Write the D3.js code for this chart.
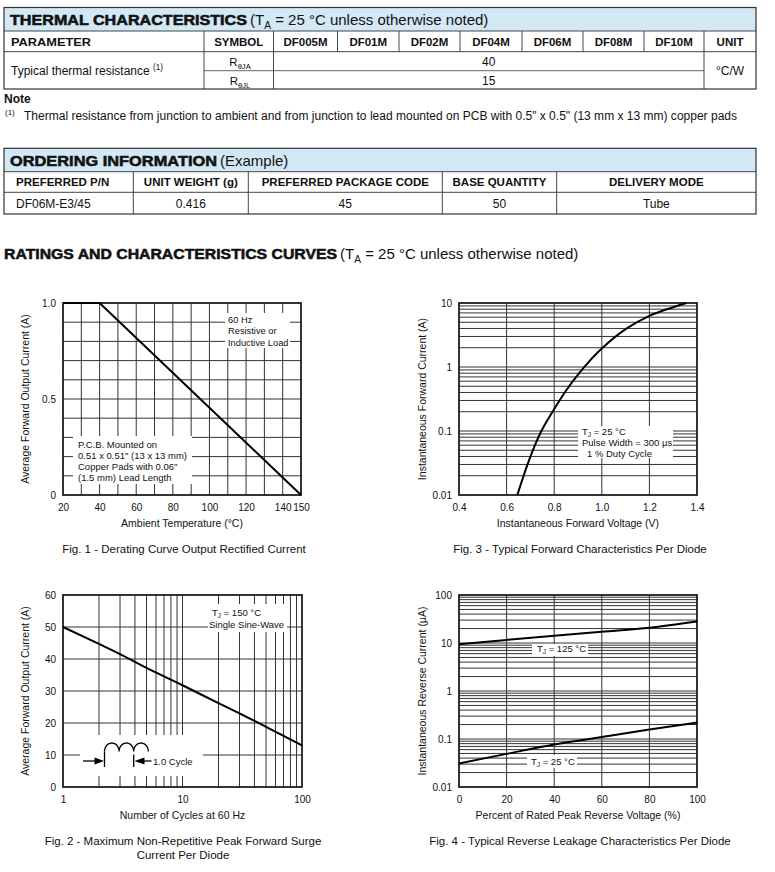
<!DOCTYPE html>
<html><head><meta charset="utf-8">
<script src="https://cdn.jsdelivr.net/npm/d3@7/dist/d3.min.js"></script>
<style>
html,body{margin:0;padding:0;background:#fff;}
svg{display:block;}
text{font-family:"Liberation Sans",Arial,Helvetica,sans-serif;fill:#111;}
</style></head><body>
<svg id="page" width="775" height="872" viewBox="0 0 775 872"></svg>
<script>
// ---------------- data ----------------
const thermalModels = ["DF005M","DF01M","DF02M","DF04M","DF06M","DF08M","DF10M"];
const thermalHeaders = ["PARAMETER","SYMBOL"];
const thermalParam = "Typical thermal resistance";
const thermalSymbols = ["θJA","θJL"];
const thermalValues = ["40","15"];
const thermalUnit = "°C/W";
const noteText = "Thermal resistance from junction to ambient and from junction to lead mounted on PCB with 0.5\" x 0.5\" (13 mm x 13 mm) copper pads";

const orderHeaders = ["PREFERRED P/N","UNIT WEIGHT (g)","PREFERRED PACKAGE CODE","BASE QUANTITY","DELIVERY MODE"];
const orderValues = ["DF06M-E3/45","0.416","45","50","Tube"];

// Fig. 1 derating curve
const fig1Temp = [20, 40, 150];
const fig1Current = [1.0, 1.0, 0];
const fig1XTicks = [20,40,60,80,100,120,140,150];
const fig1YTicks = [0, 0.5, 1.0];
const fig1YTickLabels = ["0","0.5","1.0"];

// Fig. 2 surge current
const fig2Cycles = [1,2,3,5,10,20,30,50,100];
const fig2Current = [50,44.7,41.5,37.2,31.8,26.2,23.0,18.8,13.0];
const fig2XTicks = [1,10,100];
const fig2YTicks = [0,10,20,30,40,50,60];

// Fig. 3 forward characteristics
const fig3Volt = [0.645,0.695,0.745,0.80,0.85,0.90,0.95,1.00,1.10,1.20,1.30,1.355];
const fig3Current = [0.01,0.0355,0.098,0.22,0.43,0.76,1.26,1.95,3.9,6.3,8.6,10];
const fig3XTicks = [0.4,0.6,0.8,1.0,1.2,1.4];
const fig3XTickLabels = ["0.4","0.6","0.8","1.0","1.2","1.4"];
const fig3YTicks = [0.01,0.1,1,10];
const fig3YTickLabels = ["0.01","0.1","1","10"];

// Fig. 4 reverse leakage
const fig4Pct = [0,20,40,60,80,100];
const fig4I125 = [9.4,11.6,14.2,17.2,20.8,28];
const fig4I25 = [0.031,0.049,0.077,0.11,0.157,0.22];
const fig4XTicks = [0,20,40,60,80,100];
const fig4YTicks = [0.01,0.1,1,10,100];
const fig4YTickLabels = ["0.01","0.1","1","10","100"];

// ---------------- helpers ----------------
const svg = d3.select("#page");
function T(p, x, y, s, o = {}) {
  const t = p.append("text").attr("x", x).attr("y", y).text(s).style("font-size", (o.size || 12) + "px");
  if (o.weight) t.style("font-weight", o.weight);
  if (o.anchor) t.attr("text-anchor", o.anchor);
  if (o.stroke) t.style("stroke", "#111").style("stroke-width", o.stroke);
  if (o.len) t.attr("textLength", o.len).attr("lengthAdjust", "spacingAndGlyphs");
  if (o.rot) t.attr("transform", `rotate(-90,${x},${y})`);
  return t;
}
function R(p, x, y, parts, o = {}) {
  const size = o.size || 12;
  const t = p.append("text").attr("x", x).attr("y", y).style("font-size", size + "px");
  if (o.anchor) t.attr("text-anchor", o.anchor);
  if (o.weight) t.style("font-weight", o.weight);
  let shift = 0;
  parts.forEach(([s, kind]) => {
    const target = kind === "sub" ? size * 0.28 : kind === "sup" ? -size * 0.42 : 0;
    const ts = t.append("tspan").attr("dy", target - shift).text(s);
    if (kind) ts.style("font-size", (size * (o.subScale || 0.68)) + "px");
    shift = target;
  });
  return t;
}
function L(p, x1, y1, x2, y2, c = "#555", w = 1) {
  p.append("line").attr("x1", x1).attr("y1", y1).attr("x2", x2).attr("y2", y2).attr("stroke", c).attr("stroke-width", w);
}

// ---------------- thermal table ----------------
(function () {
  const g = svg.append("g");
  const x0 = 4, x1 = 756, yTop = 7.5, yTitle = 31, yHead = 51.7, yMid = 70.7, yBot = 89;
  const cols = [4, 204, 273.5, 337.5, 399, 460, 522, 583, 644, 704, 756];
  g.append("rect").attr("x", x0).attr("y", yTop).attr("width", x1 - x0).attr("height", yTitle - yTop).attr("fill", "#d3e8f5");
  L(g, x0, yTitle, x1, yTitle, "#444");
  L(g, x0, yHead, x1, yHead, "#444");
  L(g, cols[1], yMid, cols[9], yMid, "#666");
  [1, 2, 9].forEach(i => L(g, cols[i], yTitle, cols[i], yBot, "#444"));
  [3, 4, 5, 6, 7, 8].forEach(i => L(g, cols[i], yTitle, cols[i], yHead, "#444"));
  g.append("rect").attr("x", x0).attr("y", yTop).attr("width", x1 - x0).attr("height", yBot - yTop).attr("fill", "none").attr("stroke", "#333").attr("stroke-width", 1.2);

  T(g, 10, 25, "THERMAL CHARACTERISTICS", {size: 15, weight: "bold", stroke: 0.55, len: 237});
  R(g, 250, 25, [["(T"], ["A", "sub"], [" = 25 °C unless otherwise noted)"]], {size: 15});

  const hb = 45.5;
  T(g, 11, hb, thermalHeaders[0], {size: 11.5, weight: "bold", len: 80});
  T(g, (cols[1] + cols[2]) / 2, hb, thermalHeaders[1], {size: 11.5, weight: "bold", anchor: "middle"});
  thermalModels.forEach((m, i) => T(g, (cols[i + 2] + cols[i + 3]) / 2, hb, m, {size: 11.5, weight: "bold", anchor: "middle"}));
  T(g, (cols[9] + cols[10]) / 2, hb, "UNIT", {size: 11.5, weight: "bold", anchor: "middle"});

  R(g, 11, 75, [[thermalParam + " "], ["(1)", "sup"]], {size: 12});
  thermalSymbols.forEach((s, i) => {
    R(g, 240, i === 0 ? 65.5 : 84.5, [["R"], [s, "sub"]], {size: 11.5, anchor: "middle", subScale: 0.66});
  });
  thermalValues.forEach((v, i) => T(g, (cols[2] + cols[9]) / 2, i === 0 ? 65.5 : 84.5, v, {size: 12, anchor: "middle"}));
  T(g, (cols[9] + cols[10]) / 2, 75, thermalUnit, {size: 12, anchor: "middle"});

  T(g, 4, 103, "Note", {size: 12, weight: "bold"});
  T(g, 5, 115, "(1)", {size: 8});
  T(g, 24, 120, noteText, {size: 12, len: 713});
})();

// ---------------- ordering table ----------------
(function () {
  const g = svg.append("g");
  const x0 = 4, x1 = 756, yTop = 148.3, yTitle = 171.7, yHead = 192.3, yBot = 214;
  const cols = [4, 133.3, 248.3, 442.3, 556.7, 756];
  g.append("rect").attr("x", x0).attr("y", yTop).attr("width", x1 - x0).attr("height", yTitle - yTop).attr("fill", "#d3e8f5");
  L(g, x0, yTitle, x1, yTitle, "#444");
  L(g, x0, yHead, x1, yHead, "#444");
  [1, 2, 3, 4].forEach(i => L(g, cols[i], yTitle, cols[i], yBot, "#444"));
  g.append("rect").attr("x", x0).attr("y", yTop).attr("width", x1 - x0).attr("height", yBot - yTop).attr("fill", "none").attr("stroke", "#333").attr("stroke-width", 1.2);

  T(g, 10, 165.5, "ORDERING INFORMATION", {size: 15, weight: "bold", stroke: 0.55, len: 207});
  T(g, 220, 165.5, "(Example)", {size: 15});
  orderHeaders.forEach((h, i) => {
    if (i === 0) T(g, 16, 186.3, h, {size: 11.5, weight: "bold"});
    else T(g, (cols[i] + cols[i + 1]) / 2, 186.3, h, {size: 11.5, weight: "bold", anchor: "middle"});
  });
  orderValues.forEach((v, i) => {
    if (i === 0) T(g, 16, 207.5, v, {size: 12});
    else T(g, (cols[i] + cols[i + 1]) / 2, 207.5, v, {size: 12, anchor: "middle"});
  });
})();

// ---------------- section heading ----------------
T(svg, 4, 259, "RATINGS AND CHARACTERISTICS CURVES", {size: 15, weight: "bold", stroke: 0.55, len: 333});
R(svg, 340, 259, [["(T"], ["A", "sub"], [" = 25 °C unless otherwise noted)"]], {size: 15});

// ---------------- chart helper ----------------
function plot(cfg) {
  const g = svg.append("g");
  const x = cfg.x, y = cfg.y;
  const [px0, px1] = x.range(), [pyB, pyT] = y.range();
  const gridC = "#333";
  cfg.xGrid.forEach(d => L(g, x(d), pyT, x(d), pyB, gridC, 1));
  cfg.yGrid.forEach(d => L(g, px0, y(d), px1, y(d), gridC, 1));
  (cfg.boxes || []).forEach(b => g.append("rect").attr("x", b[0]).attr("y", b[1]).attr("width", b[2]).attr("height", b[3]).attr("fill", "#fff"));
  g.append("rect").attr("x", px0).attr("y", pyT).attr("width", px1 - px0).attr("height", pyB - pyT)
    .attr("fill", "none").attr("stroke", "#111").attr("stroke-width", 1.7);
  cfg.series.forEach(s => {
    g.append("path").datum(d3.zip(s.x, s.y))
      .attr("d", d3.line().x(d => x(d[0])).y(d => y(d[1])).curve(s.curve || d3.curveLinear))
      .attr("fill", "none").attr("stroke", "#000").attr("stroke-width", 2).attr("stroke-linejoin", "round");
  });
  const ax = g.append("g").attr("transform", `translate(0,${pyB})`)
    .call(d3.axisBottom(x).tickValues(cfg.xTicks).tickFormat((d, i) => cfg.xLabels[i]).tickSize(0).tickPadding(8.5));
  ax.select(".domain").remove();
  ax.selectAll("text").style("font-size", "10px");
  const ay = g.append("g").attr("transform", `translate(${px0},0)`)
    .call(d3.axisLeft(y).tickValues(cfg.yTicks).tickFormat((d, i) => cfg.yLabels[i]).tickSize(0).tickPadding(7));
  ay.select(".domain").remove();
  ay.selectAll("text").style("font-size", "10px");
  const cx = (px0 + px1) / 2, cy = (pyB + pyT) / 2;
  T(g, cx, pyB + 31.5, cfg.xTitle, {size: 10.5, anchor: "middle"});
  T(g, cfg.yTitleX, cy, cfg.yTitle, {size: 10.5, anchor: "middle", rot: true}).attr("dy", "0.35em");
  cfg.caption.forEach((c, i) => T(g, cfg.capX, cfg.capY + i * 14, c, {size: 11.5, anchor: "middle"}));
  return g;
}
function logGrid(decades) {
  const out = [];
  decades.forEach(d => { for (let k = 1; k <= 9; k++) out.push(k * d); });
  return out;
}

// ---------------- Fig. 1 ----------------
{
  const x = d3.scaleLinear().domain([20, 150]).range([63, 301]);
  const y = d3.scaleLinear().domain([0, 1]).range([495, 303]);
  const g = plot({
    x, y, xGrid: d3.range(30, 150, 10), yGrid: d3.range(1, 10).map(d => d / 10),
    boxes: [[225, 313, 65, 35], [73, 436, 119, 48]],
    series: [{x: fig1Temp, y: fig1Current}],
    xTicks: fig1XTicks, xLabels: fig1XTicks.map(String),
    yTicks: fig1YTicks, yLabels: fig1YTickLabels,
    xTitle: "Ambient Temperature (°C)", yTitle: "Average Forward Output Current (A)", yTitleX: 25,
    caption: ["Fig. 1 - Derating Curve Output Rectified Current"], capX: 184, capY: 553
  });
  ["60 Hz", "Resistive or", "Inductive Load"].forEach((s, i) => T(g, 228, 322.5 + i * 11.5, s, {size: 9.3}));
  ["P.C.B. Mounted on", "0.51 x 0.51\" (13 x 13 mm)", "Copper Pads with 0.06\"", "(1.5 mm) Lead Length"]
    .forEach((s, i) => T(g, 78, 447.5 + i * 11, s, {size: 9.5}));
}

// ---------------- Fig. 3 ----------------
{
  const x = d3.scaleLinear().domain([0.4, 1.4]).range([459, 697]);
  const y = d3.scaleLog().domain([0.01, 10]).range([495, 303]);
  const g = plot({
    x, y, xGrid: [0.6, 0.8, 1.0, 1.2], yGrid: logGrid([0.01, 0.1, 1]).filter(d => d > 0.0101),
    boxes: [[578, 426, 95, 32]],
    series: [{x: fig3Volt, y: fig3Current, curve: d3.curveCatmullRom.alpha(0.5)}],
    xTicks: fig3XTicks, xLabels: fig3XTickLabels,
    yTicks: fig3YTicks, yLabels: fig3YTickLabels,
    xTitle: "Instantaneous Forward Voltage (V)", yTitle: "Instantaneous Forward Current (A)", yTitleX: 422,
    caption: ["Fig. 3 - Typical Forward Characteristics Per Diode"], capX: 580, capY: 553
  });
  R(g, 582, 434.5, [["T"], ["J", "sub"], [" = 25 °C"]], {size: 9.5});
  T(g, 582, 445.5, "Pulse Width = 300 µs", {size: 9.5});
  T(g, 587, 456.5, "1 % Duty Cycle", {size: 9.5});
}

// ---------------- Fig. 2 ----------------
{
  const x = d3.scaleLog().domain([1, 100]).range([63, 302]);
  const y = d3.scaleLinear().domain([0, 60]).range([787, 595]);
  const g = plot({
    x, y, xGrid: logGrid([1, 10]).filter(d => d > 1.01), yGrid: [10, 20, 30, 40, 50],
    boxes: [[208, 604, 79, 28], [80, 735, 123, 41]],
    series: [{x: fig2Cycles, y: fig2Current, curve: d3.curveMonotoneX}],
    xTicks: fig2XTicks, xLabels: fig2XTicks.map(String),
    yTicks: fig2YTicks, yLabels: fig2YTicks.map(String),
    xTitle: "Number of Cycles at 60 Hz", yTitle: "Average Forward Output Current (A)", yTitleX: 25,
    caption: ["Fig. 2 - Maximum Non-Repetitive Peak Forward Surge", "Current Per Diode"], capX: 183, capY: 845
  });
  R(g, 212, 615.5, [["T"], ["J", "sub"], [" = 150 °C"]], {size: 9.5});
  T(g, 209, 627.5, "Single Sine-Wave", {size: 9.5});
  // sine-wave symbol
  const p = d3.path();
  const bx = 104.5, w = 14.6, by = 751.5;
  p.moveTo(bx, by);
  for (let k = 0; k < 3; k++) {
    const c = bx + w * k + w / 2;
    for (let a = 0; a <= 24; a++) {
      const t = Math.PI - Math.PI * a / 24;
      p.lineTo(c + (w / 2) * Math.cos(t), by - 8.5 * Math.sin(t));
    }
  }
  g.append("path").attr("d", p.toString()).attr("fill", "none").attr("stroke", "#000").attr("stroke-width", 1.3);
  L(g, bx, by, bx, 767, "#000", 1.3);
  L(g, bx + 2 * w, by + 3, bx + 2 * w, 767, "#000", 1.3);
  const ay0 = 761;
  L(g, 83, ay0, 96, ay0, "#000", 1.3);
  g.append("path").attr("d", `M${bx - 0.5},${ay0} L${bx - 10},${ay0 - 3.6} L${bx - 10},${ay0 + 3.6} Z`).attr("fill", "#000");
  const rx = bx + 2 * w + 0.8;
  L(g, rx + 8, ay0, rx + 17, ay0, "#000", 1.3);
  g.append("path").attr("d", `M${rx},${ay0} L${rx + 10},${ay0 - 3.6} L${rx + 10},${ay0 + 3.6} Z`).attr("fill", "#000");
  T(g, 153, 764.5, "1.0 Cycle", {size: 9.5});
}

// ---------------- Fig. 4 ----------------
{
  const x = d3.scaleLinear().domain([0, 100]).range([459, 697]);
  const y = d3.scaleLog().domain([0.01, 100]).range([787, 595]);
  const g = plot({
    x, y, xGrid: [20, 40, 60, 80], yGrid: logGrid([0.01, 0.1, 1, 10]).filter(d => d > 0.0101),
    boxes: [[532, 644, 56, 12], [527, 755, 50, 13]],
    series: [{x: fig4Pct, y: fig4I125, curve: d3.curveMonotoneX}, {x: fig4Pct, y: fig4I25, curve: d3.curveMonotoneX}],
    xTicks: fig4XTicks, xLabels: fig4XTicks.map(String),
    yTicks: fig4YTicks, yLabels: fig4YTickLabels,
    xTitle: "Percent of Rated Peak Reverse Voltage (%)", yTitle: "Instantaneous Reverse Current (µA)", yTitleX: 422,
    caption: ["Fig. 4 - Typical Reverse Leakage Characteristics Per Diode"], capX: 580, capY: 845
  });
  R(g, 537, 651.8, [["T"], ["J", "sub"], [" = 125 °C"]], {size: 9.5});
  R(g, 531, 764.8, [["T"], ["J", "sub"], [" = 25 °C"]], {size: 9.5});
}
</script>
</body></html>
